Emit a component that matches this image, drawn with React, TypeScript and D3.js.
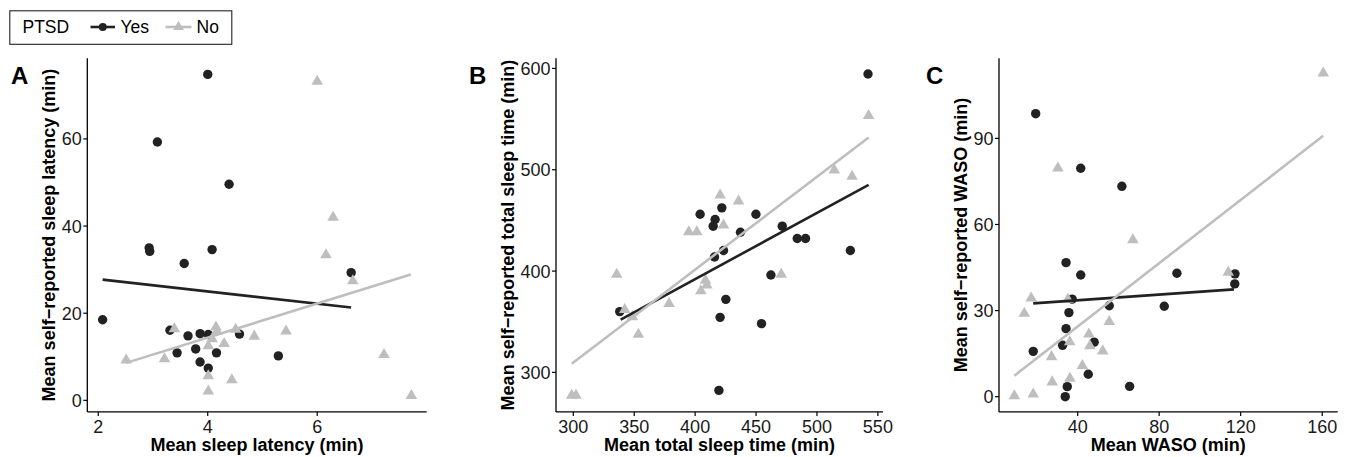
import React from "react";
import * as d3 from "d3";

// ---------- Panel A: sleep latency ----------
const aYesX = [4.0, 3.08, 4.39, 2.93, 2.94, 4.08, 3.57, 6.62, 2.08, 3.31, 3.64, 3.86, 4.01, 4.58, 3.44, 3.78, 4.16, 3.86, 4.01, 5.29];
const aYesY = [74.8, 59.3, 49.6, 35.0, 34.2, 34.6, 31.4, 29.3, 18.5, 16.1, 14.8, 15.3, 15.1, 15.2, 10.9, 11.8, 10.9, 8.8, 7.4, 10.2];
const aNoX = [6.0, 6.29, 6.16, 6.65, 3.39, 4.15, 4.17, 4.51, 5.43, 4.85, 4.08, 4.3, 4.01, 2.51, 3.21, 7.22, 4.01, 4.44, 4.01, 7.72];
const aNoY = [73.2, 42.0, 33.4, 27.4, 16.4, 16.8, 15.8, 16.3, 15.9, 14.7, 14.1, 13.0, 12.5, 9.2, 9.5, 10.5, 5.6, 4.7, 2.1, 1.1];
const aYesFitX = [2.08, 6.62];
const aYesFitY = [27.7, 21.3];
const aNoFitX = [2.51, 7.71];
const aNoFitY = [8.6, 28.9];
const aTicksX = [2, 4, 6];
const aTicksY = [0, 20, 40, 60];

// ---------- Panel B: total sleep time ----------
const bYesX = [541.9, 404.1, 421.9, 416.4, 414.8, 449.9, 437.2, 471.5, 483.8, 490.6, 423.3, 415.9, 527.4, 462.2, 338.1, 425.2, 420.5, 454.5, 419.5];
const bYesY = [594.5, 456.1, 462.4, 450.9, 444.3, 456.1, 438.3, 444.3, 432.1, 432.1, 420.3, 413.9, 420.3, 396.1, 360.0, 372.1, 354.3, 348.1, 282.2];
const bNoX = [542.4, 514.2, 528.8, 420.5, 435.6, 423.3, 394.8, 401.4, 335.6, 470.7, 408.5, 409.6, 404.7, 378.6, 342.2, 348.5, 353.4, 298.7, 302.2];
const bNoY = [553.3, 499.6, 493.4, 474.9, 469.0, 445.3, 438.6, 438.6, 396.8, 396.8, 390.9, 386.0, 380.3, 367.9, 362.0, 354.7, 337.5, 277.3, 277.3];
const bYesFitX = [338.9, 542.4];
const bYesFitY = [352.1, 485.1];
const bNoFitX = [298.7, 542.4];
const bNoFitY = [308.6, 531.9];
const bTicksX = [300, 350, 400, 450, 500, 550];
const bTicksY = [300, 400, 500, 600];

// ---------- Panel C: WASO ----------
const cYesX = [19.4, 41.5, 61.7, 34.3, 41.5, 88.7, 117.2, 117.1, 37.3, 55.5, 82.5, 35.7, 34.3, 32.6, 48.1, 18.2, 45.2, 34.9, 65.5, 33.9];
const cYesY = [98.6, 79.6, 73.3, 46.7, 42.4, 43.0, 42.8, 39.3, 34.0, 31.7, 31.5, 29.3, 23.7, 17.9, 19.0, 15.8, 7.8, 3.5, 3.6, 0.0];
const cNoX = [160.5, 30.3, 67.1, 113.9, 17.2, 35.2, 13.8, 55.5, 45.5, 36.1, 46.0, 52.3, 27.2, 42.3, 36.2, 27.5, 8.9, 18.2];
const cNoY = [112.7, 79.6, 54.6, 43.3, 34.3, 33.9, 29.0, 26.1, 21.8, 19.1, 17.7, 15.9, 13.9, 10.8, 6.4, 5.1, 0.3, 0.9];
const cYesFitX = [18.2, 116.7];
const cYesFitY = [32.5, 37.4];
const cNoFitX = [8.9, 160.5];
const cNoFitY = [7.3, 90.9];
const cTicksX = [40, 80, 120, 160];
const cTicksY = [0, 30, 60, 90];

const YES_COLOR = "#222222";
const NO_COLOR = "#bebebe";
const FONT = "'Liberation Sans', Arial, Helvetica, sans-serif";

const triPath = d3.symbol().type(d3.symbolTriangle).size(58)() as string;
const triPathSmall = d3.symbol().type(d3.symbolTriangle).size(50)() as string;

type PanelProps = {
  letter: string;
  letterX: number;
  left: number;
  right: number;
  top: number;
  bottom: number;
  xDom: [number, number];
  yDom: [number, number];
  xTicks: number[];
  yTicks: number[];
  xTitle: string;
  yTitle: string;
  yTitleX: number;
  yesX: number[];
  yesY: number[];
  noX: number[];
  noY: number[];
  yesFitX: number[];
  yesFitY: number[];
  noFitX: number[];
  noFitY: number[];
};

function Panel(p: PanelProps) {
  const x = d3.scaleLinear().domain(p.xDom).range([p.left, p.right]);
  const y = d3.scaleLinear().domain(p.yDom).range([p.bottom, p.top]);
  const line = d3
    .line<[number, number]>()
    .x((d) => x(d[0]))
    .y((d) => y(d[1]));
  const yesFit = p.yesFitX.map((v, i) => [v, p.yesFitY[i]] as [number, number]);
  const noFit = p.noFitX.map((v, i) => [v, p.noFitY[i]] as [number, number]);
  const cx = (p.left + p.right) / 2;
  const cy = (p.top + p.bottom) / 2;
  return (
    <g fontFamily={FONT}>
      {/* points */}
      {p.yesX.map((v, i) => (
        <circle key={"y" + i} cx={x(v)} cy={y(p.yesY[i])} r={4.7} fill={YES_COLOR} />
      ))}
      {p.noX.map((v, i) => (
        <path key={"n" + i} d={triPath} transform={`translate(${x(v)},${y(p.noY[i])})`} fill={NO_COLOR} />
      ))}
      {/* fit lines */}
      <path d={line(yesFit) as string} stroke={YES_COLOR} strokeWidth={2.6} fill="none" />
      <path d={line(noFit) as string} stroke={NO_COLOR} strokeWidth={2.6} fill="none" />
      {/* axes */}
      <line x1={p.left} x2={p.right} y1={p.bottom} y2={p.bottom} stroke="#000" strokeWidth={1.3} />
      <line x1={p.left} x2={p.left} y1={p.top} y2={p.bottom} stroke="#000" strokeWidth={1.3} />
      {p.xTicks.map((t) => (
        <g key={"xt" + t}>
          <line x1={x(t)} x2={x(t)} y1={p.bottom} y2={p.bottom + 4} stroke="#000" strokeWidth={1.2} />
          <text x={x(t)} y={p.bottom + 21.5} textAnchor="middle" fontSize={18} fill="#1a1a1a">
            {t}
          </text>
        </g>
      ))}
      {p.yTicks.map((t) => (
        <g key={"yt" + t}>
          <line x1={p.left - 4} x2={p.left} y1={y(t)} y2={y(t)} stroke="#000" strokeWidth={1.2} />
          <text x={p.left - 5.5} y={y(t)} dy="0.36em" textAnchor="end" fontSize={18} fill="#1a1a1a">
            {t}
          </text>
        </g>
      ))}
      <text x={cx} y={451} textAnchor="middle" fontSize={18} fontWeight="bold" fill="#000">
        {p.xTitle}
      </text>
      <text
        transform={`translate(${p.yTitleX},${cy}) rotate(-90)`}
        textAnchor="middle"
        fontSize={18}
        fontWeight="bold"
        fill="#000"
      >
        {p.yTitle}
      </text>
      <text x={p.letterX} y={83.5} fontSize={24} fontWeight="bold" fill="#000">
        {p.letter}
      </text>
    </g>
  );
}

export default function App() {
  return (
    <svg
      width={1350}
      height={457}
      style={{ position: "absolute", left: 0, top: 0, background: "#fff" }}
    >
      <rect x={0} y={0} width={1350} height={457} fill="#fff" />
      {/* legend */}
      <g fontFamily={FONT}>
        <rect x={9.8} y={10.8} width={222} height={33.5} fill="#fff" stroke="#222" strokeWidth={1.1} />
        <text x={22.5} y={33.3} fontSize={17.5} fill="#000">PTSD</text>
        <line x1={90.5} x2={115} y1={27} y2={27} stroke={YES_COLOR} strokeWidth={2.6} />
        <circle cx={102.8} cy={27} r={4} fill={YES_COLOR} />
        <text x={120.5} y={33.3} fontSize={17.5} fill="#000">Yes</text>
        <line x1={165.5} x2={191.5} y1={27} y2={27} stroke={NO_COLOR} strokeWidth={2.6} />
        <path d={triPathSmall} transform="translate(178.5,27)" fill={NO_COLOR} />
        <text x={196.5} y={33.3} fontSize={17.5} fill="#000">No</text>
      </g>
      <Panel
        letter="A"
        letterX={11}
        left={87.3}
        right={426.7}
        top={58.3}
        bottom={411.9}
        xDom={[1.8, 8.0]}
        yDom={[-2.65, 78.5]}
        xTicks={aTicksX}
        yTicks={aTicksY}
        xTitle="Mean sleep latency (min)"
        yTitle="Mean self−reported sleep latency (min)"
        yTitleX={55}
        yesX={aYesX}
        yesY={aYesY}
        noX={aNoX}
        noY={aNoY}
        yesFitX={aYesFitX}
        yesFitY={aYesFitY}
        noFitX={aNoFitX}
        noFitY={aNoFitY}
      />
      <Panel
        letter="B"
        letterX={469}
        left={556}
        right={883}
        top={58.3}
        bottom={411.9}
        xDom={[285.8, 554.2]}
        yDom={[261, 610]}
        xTicks={bTicksX}
        yTicks={bTicksY}
        xTitle="Mean total sleep time (min)"
        yTitle="Mean self−reported total sleep time (min)"
        yTitleX={514}
        yesX={bYesX}
        yesY={bYesY}
        noX={bNoX}
        noY={bNoY}
        yesFitX={bYesFitX}
        yesFitY={bYesFitY}
        noFitX={bNoFitX}
        noFitY={bNoFitY}
      />
      <Panel
        letter="C"
        letterX={926}
        left={999}
        right={1337.7}
        top={58.3}
        bottom={411.9}
        xDom={[1.4, 167.6]}
        yDom={[-5.3, 117.9]}
        xTicks={cTicksX}
        yTicks={cTicksY}
        xTitle="Mean WASO (min)"
        yTitle="Mean self−reported WASO (min)"
        yTitleX={967}
        yesX={cYesX}
        yesY={cYesY}
        noX={cNoX}
        noY={cNoY}
        yesFitX={cYesFitX}
        yesFitY={cYesFitY}
        noFitX={cNoFitX}
        noFitY={cNoFitY}
      />
    </svg>
  );
}
